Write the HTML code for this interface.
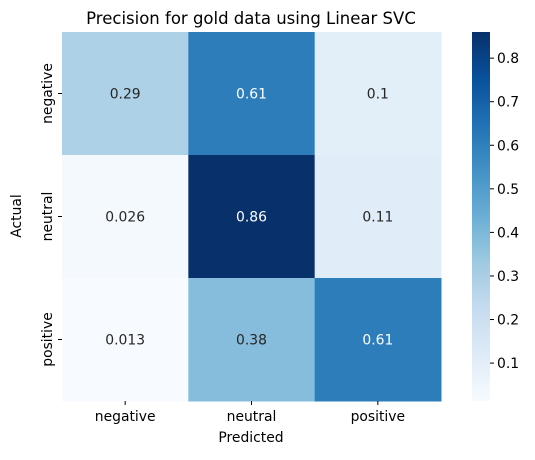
<!DOCTYPE html>
<html><head><meta charset="utf-8"><style>
body{margin:0;background:#fff;font-family:"Liberation Sans","DejaVu Sans",sans-serif;}
svg text{font-family:"DejaVu Sans","Liberation Sans",sans-serif;}
</style></head><body>
<svg id="c" width="535" height="455" xmlns="http://www.w3.org/2000/svg">
<defs><linearGradient id="cg" x1="0" y1="1" x2="0" y2="0">
<stop offset="0" stop-color="#f7fbff"/><stop offset="0.125" stop-color="#deebf7"/><stop offset="0.25" stop-color="#c6dbef"/><stop offset="0.375" stop-color="#9ecae1"/><stop offset="0.5" stop-color="#6baed6"/><stop offset="0.625" stop-color="#4292c6"/><stop offset="0.75" stop-color="#2171b5"/><stop offset="0.875" stop-color="#08519c"/><stop offset="1" stop-color="#08306b"/>
</linearGradient></defs>
<text x="251" y="24" font-size="16.5" text-anchor="middle">Precision for gold data using Linear SVC</text>
<g id="cells"></g>
<rect x="472" y="32" width="18" height="369" fill="url(#cg)"/>
<g id="cb"></g>
<text x="251" y="442" font-size="13.9" text-anchor="middle">Predicted</text>
<text x="21" y="216" font-size="13.9" text-anchor="middle" transform="rotate(-90 21 216)">Actual</text>
</svg>
<script>
const categories=["negative","neutral","positive"];
const row0=[0.29,0.61,0.1];
const row1=[0.026,0.86,0.11];
const row2=[0.013,0.38,0.61];
const labels=[["0.29","0.61","0.1"],["0.026","0.86","0.11"],["0.013","0.38","0.61"]];
const cbTicks=[0.1,0.2,0.3,0.4,0.5,0.6,0.7,0.8];
const rows=[row0,row1,row2];
const vmin=0.013,vmax=0.86;
const X0=62,X1=441,Y0=32,Y1=401;
const cw=(X1-X0)/3,ch=(Y1-Y0)/3;
const pal=["#f7fbff","#deebf7","#c6dbef","#9ecae1","#6baed6","#4292c6","#2171b5","#08519c","#08306b"];
function hex(h){return [1,3,5].map(i=>parseInt(h.substr(i,2),16));}
function color(v){let t=(v-vmin)/(vmax-vmin);t=Math.max(0,Math.min(1,t))*8;const i=Math.min(7,Math.floor(t)),f=t-i;const a=hex(pal[i]),b=hex(pal[i+1]);const c=a.map((x,k)=>Math.round(x+(b[k]-x)*f));return {s:`rgb(${c})`,l:(c[0]*0.299+c[1]*0.587+c[2]*0.114)};}
const NS="http://www.w3.org/2000/svg";
function mk(tag,at,p){const e=document.createElementNS(NS,tag);for(const k in at)e.setAttribute(k,at[k]);p.appendChild(e);return e;}
const cells=document.getElementById('cells');
rows.forEach((r,i)=>r.forEach((v,j)=>{
 const col=color(v);
 const rc=mk('rect',{x:X0+j*cw,y:Y0+i*ch,width:cw+0.5,height:ch+0.5,fill:col.s},cells);
 
 
 const t=mk('text',{x:X0+(j+0.5)*cw,y:Y0+(i+0.5)*ch+5,'font-size':13.9,'text-anchor':'middle',fill:col.l<128?'#fff':'#262626'},cells);
 t.textContent=labels[i][j];
 
 
}));
categories.forEach((c,j)=>{
 const x=X0+(j+0.5)*cw;
 mk('line',{x1:x,x2:x,y1:Y1,y2:Y1+4,stroke:'#000'},cells);
 const t=mk('text',{x:x,y:Y1+20,'font-size':13.9,'text-anchor':'middle'},cells);t.textContent=c;
 
 
 const y=Y0+(j+0.5)*ch;
 mk('line',{x1:X0-4,x2:X0,y1:y,y2:y,stroke:'#000'},cells);
 const u=mk('text',{x:X0-10,y:y,'font-size':13.9,'text-anchor':'middle',transform:`rotate(-90 ${X0-10} ${y})`},cells);u.textContent=c;
 
 
});
const cb=document.getElementById('cb');
cbTicks.forEach(v=>{
 const y=Y1-(v-vmin)/(vmax-vmin)*(Y1-Y0);
 mk('line',{x1:490,x2:494,y1:y,y2:y,stroke:'#000'},cb);
 const t=mk('text',{x:497,y:y+5,'font-size':13.9},cb);t.textContent=v.toFixed(1);
 
 
});
</script>
</body></html>
